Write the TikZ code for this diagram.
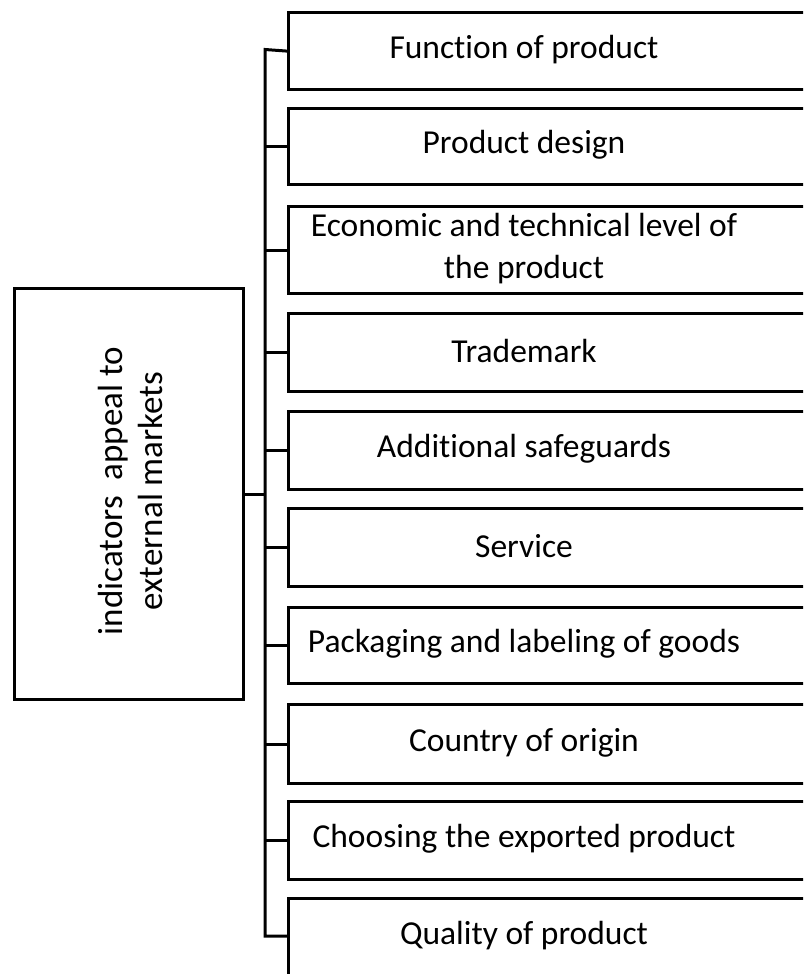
\documentclass[tikz,border=0pt]{standalone}
\usepackage{fontspec}
\setmainfont{Carlito}[Ligatures=CommonOff]
\tikzset{
  itembox/.style={draw, line width=3.2pt, anchor=north west, minimum width=540pt, inner sep=0pt},
  itemtext/.style={font=\fontsize{33.5}{42}\selectfont, align=center, inner sep=0pt},
  link/.style={line width=3pt, line join=miter},
}
\begin{document}
\begin{tikzpicture}[x=1pt,y=1pt]
\useasboundingbox (0,0) rectangle (803,-974);
\clip (0,0) rectangle (803,-974);
\fill[white] (0,0) rectangle (803,-974);
% left box
\node[draw, line width=3.2pt, anchor=north west, minimum width=229pt, minimum height=411pt, inner sep=0pt] (main) at (13,-287) {};
\node[rotate=90, font=\fontsize{35}{40}\selectfont, align=center, inner sep=0pt] (maintext) at (130,-491) {indicators\hspace{0.45em}appeal to\\external markets};
% right boxes
\foreach \i/\t/\b in {1/11/88, 2/107/183, 3/205/292, 4/312/390, 5/410/488, 6/507/585, 7/606/682, 8/703/782, 9/800/878, 10/897/980}{
  \pgfmathsetmacro{\h}{\b-\t}
  \node[itembox, minimum height=\h pt] (b\i) at (287,-\t) {};
}
\node[itemtext] (t1) at (524,-49.5) {Function of product};
\node[itemtext] (t2) at (524,-145) {Product design};
\node[itemtext] (t3) at (524,-248.5) {Economic and technical level of\\the product};
\node[itemtext] (t4) at (524,-351) {Trademark};
\node[itemtext] (t5) at (524,-449) {Additional safeguards};
\node[itemtext] (t6) at (524,-546) {Service};
\node[itemtext] (t7) at (524,-644) {Packaging and labeling of goods};
\node[itemtext] (t8) at (524,-742.5) {Country of origin};
\node[itemtext] (t9) at (524,-839) {Choosing the exported product};
\node[itemtext] (t10) at (524,-936) {Quality of product};
% bus
\coordinate (bustop) at (265,-49.5);
\coordinate (busbot) at (265,-936);
\draw[link] (b1.west) -- (bustop) -- (busbot) -- (busbot -| b10.west);
\draw[link] (main.east) -- (main.east -| bustop);
\foreach \i in {2,...,9}{
  \draw[link] (b\i.west) -- (b\i.west -| bustop);
}
\end{tikzpicture}
\end{document}
